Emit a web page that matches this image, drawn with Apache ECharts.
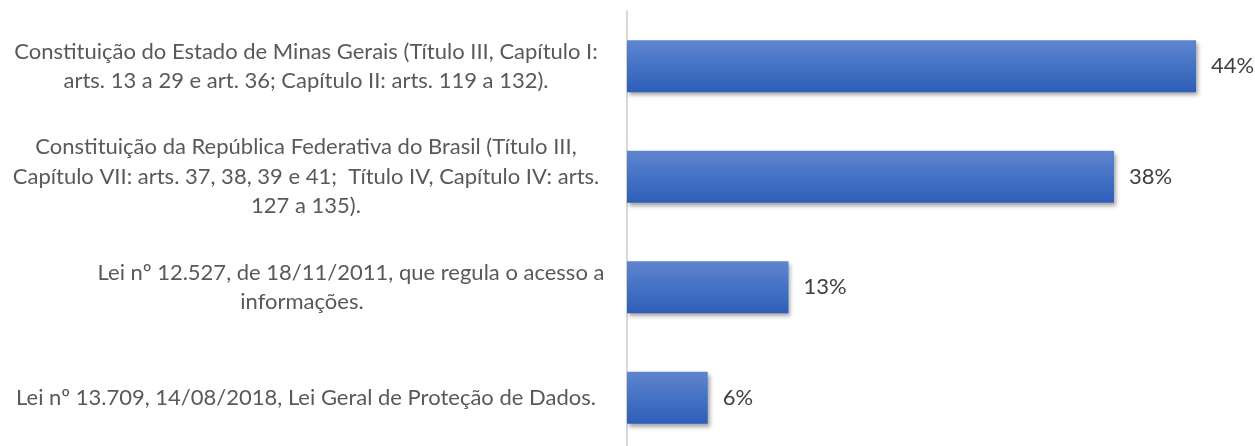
<!DOCTYPE html>
<html>
<head>
<meta charset="utf-8">
<script src="https://cdn.jsdelivr.net/npm/echarts@6/dist/echarts.min.js"></script>
<style>
  html, body { margin: 0; padding: 0; background: #fff; overflow: hidden; }
  /* the axis runs past the bottom of the picture, so the chart is a bit taller than the window */
  #main { width: 1255px; height: 453px; }
</style>
</head>
<body>
<div id="main"></div>
<script>
var categories = [
    'Constituição do Estado de Minas Gerais (Título III, Capítulo I:\narts. 13 a 29 e art. 36; Capítulo II: arts. 119 a 132).',
    'Constituição da República Federativa do Brasil (Título III,\nCapítulo VII: arts. 37, 38, 39 e 41;  Título IV, Capítulo IV: arts.\n127 a 135).',
    'Lei nº 12.527, de 18/11/2011, que regula o acesso a\ninformações.',
    'Lei nº 13.709, 14/08/2018, Lei Geral de Proteção de Dados.'
];
var values = [44.4, 38.0, 12.6, 6.3];

var chart = echarts.init(document.getElementById('main'));

// the third label sits a bit off-centre in the original, nudge it with padding
function labelText(value, index) {
    if (index === 2) {
        var lines = value.split('\n');
        return '{l1|' + lines[0] + '}\n{l2|' + lines[1] + '}';
    }
    return value;
}

var option = {
    backgroundColor: '#ffffff',
    animation: false,
    grid: { left: 627, right: 0, top: 11, bottom: 0, containLabel: false },
    xAxis: {
        type: 'value',
        min: 0,
        max: 49,
        show: false,
        splitLine: { show: false }
    },
    yAxis: {
        type: 'category',
        inverse: true,
        data: categories,
        axisLine: { show: true, lineStyle: { color: '#d9d9d9', width: 2 } },
        axisTick: { show: false },
        axisLabel: {
            margin: 321,
            align: 'center',
            color: '#595959',
            fontFamily: 'Lato',
            fontSize: 22,
            lineHeight: 29.5,
            formatter: labelText,
            rich: {
                l1: { color: '#595959', fontFamily: 'Lato', fontSize: 22, lineHeight: 29.5, padding: [0, 0, 0, 90] },
                l2: { color: '#595959', fontFamily: 'Lato', fontSize: 22, lineHeight: 29.5, padding: [0, 8, 0, 0] }
            }
        }
    },
    series: [
        {
            type: 'bar',
            data: values,
            barWidth: 52,
            itemStyle: {
                color: new echarts.graphic.LinearGradient(0, 0, 0, 1, [
                    { offset: 0, color: '#6085cf' },
                    { offset: 0.5, color: '#4472c4' },
                    { offset: 1, color: '#2e5eb8' }
                ]),
                shadowColor: 'rgba(0,0,0,0.35)',
                shadowBlur: 4,
                shadowOffsetX: 2,
                shadowOffsetY: 3
            },
            label: {
                show: true,
                position: 'right',
                distance: 15,
                color: '#404040',
                fontFamily: 'Lato',
                fontSize: 22,
                formatter: function (p) {
                    return Math.round(p.value) + '%';
                }
            }
        }
    ]
};

chart.setOption(option);
</script>
</body>
</html>
